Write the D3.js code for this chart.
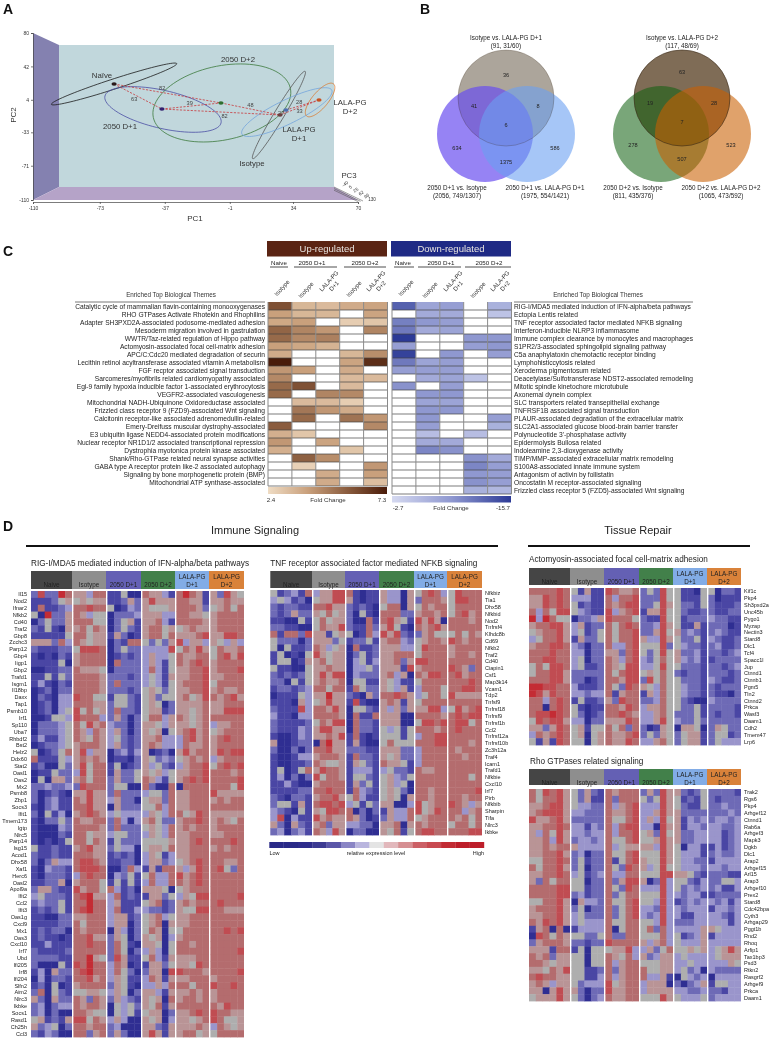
<!DOCTYPE html>
<html><head><meta charset="utf-8">
<script src="https://cdn.jsdelivr.net/npm/d3@7"></script>
<style>html,body{margin:0;padding:0;background:#fff}svg{display:block;font-family:"Liberation Sans",Arial,sans-serif;filter:blur(.4px)}</style>
</head><body><svg id="fig" width="772" height="1039" viewBox="0 0 772 1039"></svg>
<script>
// ---------- Panel A data ----------
const pc1Ticks=[-110,-73,-37,-1,34,70];
const pc2Ticks=[-110,-71,-33,4,42,80];
const pc3Ticks=["-40","5","25","62","96","130"];
const pcaGroups=["Naïve","2050 D+1","2050 D+2","Isotype","LALA-PG D+1","LALA-PG D+2"];
const pcaPc1=[-65.1,-38.6,-5.9,26.8,30.1,48.4];
const pcaPc2=[22,-6.5,0.4,-13.3,-7.6,3.8];
const pcaDot=["#2a1a1a","#33206f","#2f6f2f","#6b4040","#4f6fb0","#c8501f"];
const ellCx=[-65.1,-38,-5.4,26.2,30.6,49];
const ellCy=[22,-7,0.4,-13.3,-10,3.8];
const ellA=[36.5,33,38.8,28.2,27.7,11.6];
const ellB=[2.8,10.5,20.5,2.8,6.6,4.4];
const ellAngle=[-18,13,-12,-59,-26,-50];
const ellStroke=["#1a1a1a","#4a4ea5","#3c7a3c","#555555","#74a5dc","#d97a30"];
const pcaEdgeFrom=[0,0,1,1,2,3,4,3];
const pcaEdgeTo=[1,2,2,3,3,4,5,5];
const pcaEdgeLabel=["63","82","39","82","48","27","28","33"];
const pcaEdgeT=[.42,.45,.47,.53,.5,.2,.4,.5];
const pcaEdgeDy=[5,-5,-3,4,-4,-1,-4,4];

// ---------- Panel B data ----------
const vennCounts1=["36","41","8","6","634","586","1375"];
const vennCounts2=["63","19","28","7","278","523","507"];
const vennTitles1=[["Isotype vs. LALA-PG D+1","(91, 31/60)"],["2050 D+1 vs. Isotype","(2056, 749/1307)"],["2050 D+1 vs. LALA-PG D+1","(1975, 554/1421)"]];
const vennTitles2=[["Isotype vs. LALA-PG D+2","(117, 48/69)"],["2050 D+2 vs. Isotype","(811, 435/376)"],["2050 D+2 vs. LALA-PG D+2","(1065, 473/592)"]];

// ---------- Panel C data ----------
const upThemes=["Catalytic cycle of mammalian flavin-containing monooxygenases","RHO GTPases Activate Rhotekin and Rhophilins","Adapter SH3PXD2A-associated podosome-mediated adhesion","Mesoderm migration involved in gastrulation","WWTR/Taz-related regulation of Hippo pathway","Actomyosin-associated focal cell-matrix adhesion","APC/C:Cdc20 mediated degradation of securin","Lecithin retinol acyltransferase associated vitamin A metabolism","FGF recptor associated signal transduction","Sarcomeres/myofibrils related cardiomyopathy associated","Egl-9 family hypoxia inducible factor 1-associated erythrocytosis","VEGFR2-associated vasculogenesis","Mitochondrial NADH-Ubiquinone Oxidoreductase associated","Frizzled class receptor 9 (FZD9)-associated Wnt signaling","Calcitonin receptor-like associated adrenomedullin-related","Emery-Dreifuss muscular dystrophy-associated","E3 ubiquitin ligase NEDD4-associated protein modifications","Nuclear receptor NR1D1/2 associated transcriptional repression","Dystrophia myotonica protein kinase associated","Shank/Rho-GTPase related neural synapse activities","GABA type A receptor protein like-2 associated autophagy","Signaling by bone morphogenetic protein (BMP)","Mitochondrial ATP synthase-associated"];
const upFold=[[5.8,3.4,3.3,3.7,3.9],[4,3.4,3.4,0,3.9],[3.8,4,0,2.8,3],[5.3,4.6,4.2,0,4.6],[5.2,4.5,4.7,0,0],[4,3.8,3.5,0,0],[3.7,0,0,3.4,4.4],[7.3,0,0,3.9,6.8],[4.2,4,0,3.7,0],[4.5,0,0,3.3,3.3],[5.2,5.8,0,3.3,0],[5.2,0,4.6,4.5,0],[0,3.3,3.3,2.8,0],[0,4.9,4.2,3.7,0],[0,5.2,0,5,4.2],[5.5,0,0,0,4.5],[3.6,3,0,0,0],[4.2,0,3.9,0,0],[3.6,0,0,3,0],[0,5.4,4.4,0,0],[0,2.7,0,0,4.2],[0,0,3.7,0,4],[0,0,3.7,0,3.2]];
const downThemes=["RIG-I/MDA5 mediated induction of IFN-alpha/beta pathways","Ectopia Lentis related","TNF receptor associated factor mediated NFKB signaling","Interferon-inducible NLRP3 inflammasome","Immune complex clearance by monocytes and macrophages","S1PR2/3-associated sphingolipid signaling pathway","C5a anaphylatoxin chemotactic receptor binding","Lymphohisticcytosis related","Xeroderma pigmentosum related","Deacetylase/Sulfotransferase NDST2-associated remodeling","Mitotic spindle kinetochore microtubule","Axonemal dynein complex","SLC transporters related transepithelial exchange","TNFRSF1B associated signal transduction","PLAUR-associated degradation of the extracellular matrix","SLC2A1-associated glucose blood-brain barrier transfer","Polynucleotide 3'-phosphatase activity","Epidermolysis Bullosa related","Indoleamine 2,3-dioxygenase activity","TIMP/MMP-associated extracellular matrix remodeling","S100A8-associated innate immune system","Antagonism of activin by follistatin","Oncostatin M receptor-associated signaling","Frizzled class receptor 5 (FZD5)-associated Wnt signaling"];
const downFold=[[12.5,7,7.5,0,6],[0,6.5,6.5,0,4.5],[10,8,7.5,0,0],[10.5,6.5,7,0,0],[15.7,0,0,8,8],[7.5,0,0,7.5,8],[15,0,8,0,7.5],[10.5,7,7.5,0,0],[7.5,7.5,7.5,0,0],[0,6.5,7,4.5,0],[8.5,0,7.5,0,0],[0,8,8,0,0],[0,7,7,0,0],[0,8,8,0,0],[0,8,0,0,7.5],[0,7.5,0,0,6],[0,5,0,5,0],[0,6.5,6.5,0,0],[0,9.5,8.5,0,0],[0,0,0,8.5,6.5],[0,0,0,9.5,7.5],[0,0,0,8,7.5],[0,0,0,8.5,7.5],[0,0,0,6,5.5]];

// ---------- Panel D data ----------
const heatGroups=["Naive","Isotype","2050 D+1","2050 D+2","LALA-PG D+1","LALA-PG D+2"];
const heatGroupColors=["#454545","#8e8e8e","#6460b4","#42804a","#82ace6","#d9823a"];
const exprLevels=[0,1,2,3,4,5,6,7,8];
const exprColors=["#2f2e92","#4a46a4","#6e6ab6","#9a95cb","#aeaeae","#b99496","#b46c6e","#c04c52","#c42c34"];
const legendStops=["#2a2a88","#2a2a88","#2e2c8c","#3c3a92","#5a56a8","#8a85c5","#b9b5de","#e4e4e4","#e2b8bc","#d68f92","#cc6066","#c84a50","#c22c34","#bd1e2a","#bd1e2a"];

const ifnGenes=["Il15","Nod2","Ifnar2","Nfkb2","Cd40","Traf2","Gbp8","Zcchc3","Parp12","Gbp4","Iigp1","Gbp2","Trafd1","Isgm1","Il18bp","Daxx","Tap1","Psmb10","Irf1","Sp110","Uba7","Rhbdf2","Bst2","Helz2","Ddx60","Stat2","Oasl1","Oas2","Mx2","Psmb8","Zbp1","Socs3","Ifit1","Tmem173","Igtp","Nlrc5","Parp14","Isg15","Acod1","Dhx58","Xaf1","Herc6","Oasl2","Apol9a","Ifit2","Ccl2","Ifit3","Oas1g","Cxcl9","Mx1","Oas3","Cxcl10","Irf7","Ubd","Ifi205","Irf8","Ifi204","Slfn2","Aim2","Nlrc3","Ikbke","Socs1","Rasd1","Ch25h","Ccl3"];
const ifnCells=[
"272286 55366 11400 65531 68651 52754","111245 45455 11252 57555 66551 55655","161123 66766 40132 54445 66652 45646","408225 65344 02223 55533 66554 56666","024225 66644 02451 55631 66665 56666","214105 56465 02421 56645 45655 56666","111114 66455 15201 56646 55567 55776","555263 65455 02166 42425 73553 54353",
"211122 47776 02422 33337 46575 46556","101021 56666 01212 35334 65566 46757","111140 56666 06222 35314 65676 56666","001122 65554 02222 36314 55667 56667","114142 66665 22212 34315 55667 55666","131021 66665 26222 34314 56667 46666","012022 66665 22212 45424 55667 56556","021033 76644 14421 45244 56457 65675","012033 66655 24421 45402 55556 55666","012034 74645 26221 45512 55456 55777","001443 76663 25202 46635 65456 66666","022234 64756 32202 55435 55456 35566","022234 65365 35202 54504 56756 45666","131134 65465 34212 55633 36756 56766","012234 56665 35212 56533 36556 56666","401246 57355 02313 50120 57566 57677","611143 56565 01102 54232 45656 35666",
"120042 57466 14012 53421 35667 46767","011422 37466 15224 54534 55667 66656","040552 56466 25224 65314 56767 66667","223223 27666 24400 62006 06666 66647","201210 55755 26222 34426 55666 75555","202311 65755 35220 45526 55666 56566","102311 66755 05222 44636 55666 66666","204130 56765 34333 35436 64576 55555","102242 65566 26303 56422 56676 56546","100032 66665 26222 45436 56566 56666","100021 66455 34422 35436 55666 55666","101014 66465 14222 44445 55676 66676","411211 56755 24330 45546 55666 56566","211211 66655 12120 35413 55666 66666","202533 67765 11220 35523 45676 66556","103221 67776 00263 15166 53576 67426","102221 36766 03241 46336 75676 66666","112250 56664 14141 36336 65676 66666","255211 75664 63120 55540 45666 66666","342221 67855 36121 15524 35477 66667","232241 66866 35111 45612 56566 67666","121241 67866 36113 32212 54477 66555","110022 55666 35512 45634 55666 66666","111122 64666 35502 45605 55666 66666","121220 65666 05302 46504 46666 66767","121101 66755 25402 54503 56666 66666","113111 66766 26410 55404 66566 66666","211112 66666 26402 35304 66666 66667","222211 66854 27511 46315 55566 66666","200041 76866 36501 15524 55476 66666","130522 67866 36420 25507 76665 66667","030221 66756 35411 36515 55666 56666","120401 56666 25410 33536 66466 76676","260421 44554 35402 55315 55656 56666","520522 65265 25321 54506 56656 56666","230233 65665 04342 54615 66666 65766","230200 66544 04341 45502 55676 76655","451215 77465 35300 54503 55456 76445","523402 66566 23000 55215 55565 36545","213200 66256 25200 57515 56645 46666"];

const tnfGenes=["Nfkbiz","Tia1","Dhx58","Nfkbid","Nod2","Tnfrsf4","Klhdc8b","Cd69","Nfkb2","Traf2","Cd40","Ciapin1","Csf1","Map3k14","Vcam1","Tdp2","Tnfsf9","Tnfrsf18","Tnfrsf9","Tnfrsf1b","Ccl2","Tnfrsf12a","Tnfrsf10b","Zc3h12a","Traf4","Icam1","Trafd1","Nfkbie","Cxcl10","Irf7","Pirb","Nfkbib","Sharpin","Tifa","Nlrc3","Ikbke"];
const tnfCells=["412316 35577 61011 53305 46763 47666","343120 45577 51011 53305 26665 47766","212211 66755 21210 46605 46566 46666","212522 54645 20410 66622 56656 46756","110041 46455 20061 67541 75750 66656","221100 46557 21162 57410 65675 66666","616627 55145 40163 75721 25644 46465","422202 55524 12241 56632 45665 76566","404112 65345 06112 55533 47666 56666","140104 75455 02412 55666 46666 56656","144015 56455 03413 55625 77666 66666","411004 55655 03342 55517 56666 76526","212124 57577 03222 56350 65776 67566","220414 56556 04411 54311 46666 66676","122123 66466 16422 54351 36664 66776","011143 55855 21052 66765 34664 75555","111053 45755 17100 56515 46666 66666","211173 66575 04421 53525 55773 47567","311033 66665 06116 55500 66665 67677","211112 46577 06221 55500 47767 67746","211132 57755 06221 43414 66656 67666","100132 55657 16101 44414 36677 66666","500122 06855 15100 46444 66677 66656","200202 66755 22211 55522 36666 65666","100133 56665 16221 54522 36666 66566","100112 65445 15421 65541 36666 66666","140146 57665 13331 34221 65566 66666","130202 74665 14421 45324 66666 66646","113100 56666 15241 45340 66666 66666","111122 66766 16321 45420 66566 66667","210221 56675 46311 45405 66566 66566","244151 67767 34142 55003 74566 76535","321041 54776 60202 15336 74576 66356","370311 75655 65201 25336 45666 65646","520521 56255 33220 55605 65666 46646","230231 65375 02200 54614 67766 66677"];

const actinGenes=["Kif1c","Pkp4","Sh3pxd2a","Unc45b","Pygo1","Myzap","Nectin3","Stard8","Dlc1","Tcf4","Spacc1l","Jup","Ctnnd1","Ctnnb1","Pgm5","Tln2","Ctnnd2","Prkca","Wasf3","Daam1","Cdh2","Tmem47","Lrp6"];
const actinCells=["666676 41511 76556 24274 41104 40221","557676 33311 63667 22274 41114 20111","557676 41211 65677 22475 42214 21112","636477 43211 73567 15574 42112 21122","838644 02235 76664 21174 41222 32211","566775 35122 64676 22375 41151 22201","456675 34124 64667 22574 52321 23211","346675 15224 64667 53375 42241 32112","566776 32022 63367 44472 43221 23112","666766 33022 55267 42474 52231 22123","667766 34022 65367 32464 53231 12222","464776 34112 65477 33474 42221 22123","466775 22222 64677 45464 21221 22212","666775 22012 66577 27464 42221 32112","887766 31112 64276 54364 43221 21222","875766 33233 61566 15364 43221 21102","663676 14112 52766 22364 42100 32222","660676 41011 66576 35564 42241 22221","677876 42012 66765 33564 22241 21221","476775 33022 55576 33574 32242 22222","552576 45144 64626 20154 05540 25422","365676 45045 65567 24254 24551 24412","415176 44045 65576 33564 24551 24333"];

const rhoGenes=["Trak2","Rgs6","Pkp4","Arhgef12","Ctnnd1","Rab6a","Arhgef3","Mapk3","Dgkb","Dlc1","Arap2","Arhgef15","Arl15","Arap3","Arhgef10","Prex2","Stard8","Cdc42bpa","Cyth3","Arhgap29","Pggt1b","Rnd2","Rhoq","Arfip1","Tax1bp3","Psd3","Rtkn2","Rasgrf2","Arhgef9","Prkca","Daam1"];
const rhoCells=["647675 42521 65666 25275 52124 22221","646675 42511 62666 42475 41214 21222","556775 43322 63567 33375 42114 22322","567775 33222 65567 33575 52222 22232","755675 22222 64467 35374 51323 23323","556676 33132 63677 33075 51332 33223","536475 33233 63667 45274 52233 33123","556375 23323 64467 44575 52233 33123","556566 53333 63455 55375 40331 13123","556675 23022 64467 44475 43331 23223","446676 24122 61467 54475 43322 13333","646675 24022 64276 53474 43332 33233","556676 34123 63366 44477 55421 22211","526466 44022 62577 50273 44213 22443","666677 44122 64276 33373 42323 23113","666677 23122 62466 44473 32331 12222","446675 05332 64467 44373 12323 32313","566675 24022 62467 33273 32333 13323","556675 34222 62467 32373 31133 33213","657675 34333 64466 44373 22233 33313","156060 13333 60466 46263 33335 54333","076465 44224 62266 44463 41235 13333","256665 22122 76666 53563 43335 33333","555166 14044 45573 35246 44545 34575","656255 44044 65463 52355 34333 34555","665455 44044 63566 44455 33433 33354","554657 44112 62566 64455 34230 32222","676655 44113 63566 63351 04323 03333","565355 42333 74566 35550 20235 14433","550575 52022 75566 35555 33223 22133","455575 42023 65566 44475 43334 23333"];

// ---------- drawing ----------
const svg=d3.select("#fig");
const FS='"Liberation Sans",Arial,sans-serif';
function txt(g,x,y,s,o={}){
  const t=g.append("text").attr("x",x).attr("y",y).attr("dominant-baseline","central")
    .attr("text-anchor",o.anchor||"middle").attr("font-size",o.size||6.5).attr("fill",o.fill||"#222").text(s);
  if(o.weight)t.attr("font-weight",o.weight);
  if(o.rot!=null)t.attr("transform",`rotate(${o.rot} ${x} ${y})`);
  return t;
}
[["A",3,9],["B",420,9],["C",3,251],["D",3,526]].forEach(d=>txt(svg,d[1],d[2],d[0],{size:14,anchor:"start",weight:"bold",fill:"#111"}));

// ----- Panel A
(function(){
  const g=svg.append("g");
  const x=d3.scaleLinear().domain([-110,70]).range([33,358]);
  const y=d3.scaleLinear().domain([-110,80]).range([200,33]);
  g.append("polygon").attr("points","33,33 59,45 59,187 33,200").attr("fill","#8481b0");
  g.append("polygon").attr("points","59,45 334,45 334,187 59,187").attr("fill","#c1d7dc");
  g.append("polygon").attr("points","59,187 334,187 358,200 33,200").attr("fill","#b5a3c8");
  g.append("g").attr("transform","translate(0,202)").call(d3.axisBottom(x).tickValues(pc1Ticks).tickSize(2).tickPadding(2).tickFormat(d=>d))
   .call(a=>a.selectAll("text").attr("font-size",5).attr("font-family",FS).attr("fill","#333"))
   .call(a=>a.selectAll("path,line").attr("stroke","#444").attr("stroke-width",.7));
  g.append("g").attr("transform","translate(33,0)").call(d3.axisLeft(y).tickValues(pc2Ticks).tickSize(2).tickPadding(2).tickFormat(d=>d))
   .call(a=>a.selectAll("text").attr("font-size",5).attr("font-family",FS).attr("fill","#333"))
   .call(a=>a.selectAll("path,line").attr("stroke","#444").attr("stroke-width",.7));
  txt(g,195,218,"PC1",{size:8,fill:"#333"});
  txt(g,13,115,"PC2",{size:8,fill:"#333",rot:-90});
  const k=x(1)-x(0);
  const curve=d3.line().curve(d3.curveLinearClosed);
  pcaGroups.forEach((n,i)=>{
    const a=ellA[i]*k,b=ellB[i]*k,th=ellAngle[i]*Math.PI/180,cx=x(ellCx[i]),cy=y(ellCy[i]);
    const pts=d3.range(0,360,4).map(u=>{const t=u*Math.PI/180,px=a*Math.cos(t),py=b*Math.sin(t);
      return [cx+px*Math.cos(th)-py*Math.sin(th),cy+px*Math.sin(th)+py*Math.cos(th)];});
    g.append("path").attr("d",curve(pts)).attr("fill","none").attr("stroke",ellStroke[i]).attr("stroke-width",.8);
  });
  pcaEdgeFrom.forEach((f,i)=>{
    const t=pcaEdgeTo[i],x1=x(pcaPc1[f]),y1=y(pcaPc2[f]),x2=x(pcaPc1[t]),y2=y(pcaPc2[t]);
    g.append("line").attr("x1",x1).attr("y1",y1).attr("x2",x2).attr("y2",y2).attr("stroke","#c8383c").attr("stroke-width",.8).attr("stroke-dasharray","2.2,1.4");
    txt(g,x1+(x2-x1)*pcaEdgeT[i],y1+(y2-y1)*pcaEdgeT[i]+pcaEdgeDy[i],pcaEdgeLabel[i],{size:5.6,fill:"#444"});
  });
  pcaGroups.forEach((n,i)=>g.append("ellipse").attr("cx",x(pcaPc1[i])).attr("cy",y(pcaPc2[i])).attr("rx",2.6).attr("ry",1.7).attr("fill",pcaDot[i]));
  const L={size:7.8,fill:"#333"};
  txt(g,102,75,"Naïve",L);txt(g,238,59,"2050 D+2",L);txt(g,120,126,"2050 D+1",L);
  txt(g,350,102,"LALA-PG",L);txt(g,350,111,"D+2",L);txt(g,299,129,"LALA-PG",L);txt(g,299,138,"D+1",L);
  txt(g,252,163,"Isotype",L);txt(g,349,175,"PC3",L);
  [0,1.6,3.2].forEach(d=>g.append("line").attr("x1",334).attr("y1",187+d).attr("x2",363-d*1.5).attr("y2",201+d*.2).attr("stroke","#444").attr("stroke-width",.5));
  const px=d3.scalePoint().domain(pc3Ticks).range([345,372]),py=d3.scalePoint().domain(pc3Ticks).range([184,199]);
  pc3Ticks.forEach(t=>txt(g,px(t),py(t),t,{size:4.6,fill:"#333",rot:t==="130"?0:-35}));
})();

// ----- Panel B
(function(){
  const r=48;
  function venn(cx,cols,ops,counts,titles,dy,sw){
    const g=svg.append("g");
    [[0,-36,0],[-21,0,1],[21,0,2]].forEach(c=>g.append("circle").attr("cx",cx+c[0]).attr("cy",134+c[1]).attr("r",r)
       .attr("fill",cols[c[2]]).attr("fill-opacity",ops[c[2]]));
    g.append("circle").attr("cx",cx).attr("cy",98).attr("r",r).attr("fill","none").attr("stroke","#3a2a18").attr("stroke-width",sw);
    const pos=[[0,-59],[-32,-28],[32,-28],[0,-9],[-49,14],[49,14],[0,28]];
    counts.forEach((n,i)=>txt(g,cx+pos[i][0],134+pos[i][1]+dy,n,{size:5.6,fill:"#222"}));
    const tp=[[0,37],[-49,187],[39,187]];
    titles.forEach((t,i)=>{const tx=cx+tp[i][0];
      txt(svg,tx,tp[i][1],t[0],{size:6.3,fill:"#222"});txt(svg,tx,tp[i][1]+8,t[1],{size:6.3,fill:"#222"});});
  }
  venn(506,["#7f7565","#6a4ff0","#6aa0f2"],[.65,.7,.6],vennCounts1,vennTitles1,0,.25);
  venn(682,["#7f6c56","#106010","#c95f00"],[1,.56,.58],vennCounts2,vennTitles2,-3.5,.6);
})();

// ----- Panel C
(function(){
  const upCol=d3.scaleLinear().domain([2.4,4,5.5,7.3]).range(["#efdcc4","#c9a07c","#8a5c3e","#4a1c0a"]);
  const downCol=d3.scaleLinear().domain([2.7,8,15.7]).range(["#d5d9f0","#8f98d0","#2c3a96"]);
  const defs=svg.append("defs");
  function grad(id,stops){const lg=defs.append("linearGradient").attr("id",id);
    stops.forEach((s,i)=>lg.append("stop").attr("offset",i/(stops.length-1)).attr("stop-color",s));}
  grad("gUp",upCol.range());grad("gDown",downCol.range());
  function block(x0,hdr,hdrCol,labels,vals,col,side,lineX,themeCx,sub,rot){
    const g=svg.append("g");
    const colsX=d3.scaleBand().domain(d3.range(5)).range([x0,x0+119.5]);
    const rowsY=d3.scaleBand().domain(d3.range(labels.length)).range([302,302+8*labels.length]);
    g.append("rect").attr("x",x0-1).attr("y",241).attr("width",120).attr("height",15.5).attr("fill",hdrCol);
    txt(g,x0+59,248.5,hdr,{size:9.5,fill:"#e8e4e0"});
    sub.forEach(s=>{txt(g,s[0],262.5,s[1],{size:6.2,fill:"#222"});
      g.append("line").attr("x1",s[2]).attr("x2",s[3]).attr("y1",267).attr("y2",267).attr("stroke","#222").attr("stroke-width",.8);});
    rot.forEach(s=>{
      if(s[2]){txt(g,s[0]-1,s[1]-2,"LALA-PG",{size:6,rot:-48,fill:"#333"});txt(g,s[0]+4,s[1]+3,s[2],{size:6,rot:-48,fill:"#333"});}
      else txt(g,s[0],s[1],"Isotype",{size:6,rot:-48,fill:"#333"});});
    vals.forEach((row,r)=>row.forEach((v,c)=>{
      g.append("rect").attr("x",colsX(c)).attr("y",rowsY(r)).attr("width",colsX.bandwidth()).attr("height",rowsY.bandwidth())
       .attr("fill",v?col(v):"#fff");
    }));
    rowsY.domain().forEach(r=>g.append("line").attr("x1",x0).attr("x2",x0+119.5).attr("y1",rowsY(r)+8).attr("y2",rowsY(r)+8).attr("stroke","#444").attr("stroke-width",.7));
    d3.range(6).forEach(c=>g.append("line").attr("x1",x0+c*23.9).attr("x2",x0+c*23.9).attr("y1",302).attr("y2",302+8*labels.length).attr("stroke","#8a8a8a").attr("stroke-width",1));
    labels.forEach((l,i)=>txt(g,side==="end"?265:514,rowsY(i)+4,l,{size:6.65,anchor:side,fill:"#222"}));
    g.append("line").attr("x1",lineX[0]).attr("x2",lineX[1]).attr("y1",302).attr("y2",302).attr("stroke","#555").attr("stroke-width",.8);
    txt(g,themeCx,294,"Enriched Top Biological Themes",{size:6.3,fill:"#333"});
  }
  block(268,"Up-regulated","#5a2413",upThemes,upFold,upCol,"end",[75,265],171,
    [[279,"Naive",270,288],[312,"2050 D+1",294,337],[365,"2050 D+2",344,386]],
    [[282,288],[306,290],[330,283,"D+1"],[354,289],[377,283,"D+2"]]);
  block(392,"Down-regulated","#1f2a85",downThemes,downFold,downCol,"start",[514,693],598,
    [[403,"Naive",394,414],[441,"2050 D+1",418,461],[489,"2050 D+2",465,511]],
    [[406,288],[430,290],[454,283,"D+1"],[478,290],[501,283,"D+2"]]);
  svg.append("rect").attr("x",268).attr("y",487).attr("width",119).attr("height",7).attr("fill","url(#gUp)");
  svg.append("rect").attr("x",392).attr("y",496).attr("width",119).attr("height",6.5).attr("fill","url(#gDown)");
  const s={size:6.2,fill:"#333"};
  txt(svg,271,499,"2.4",s);txt(svg,328,499,"Fold Change",s);txt(svg,382,499,"7.3",s);
  txt(svg,398,507.5,"-2.7",s);txt(svg,451,507.5,"Fold Change",s);txt(svg,503,507.5,"-15.7",s);
})();

// ----- Panel D
(function(){
  const color=d3.scaleOrdinal().domain(exprLevels).range(exprColors);
  const groupCols=[6,5,5,5,5,5];
  txt(svg,255,530,"Immune Signaling",{size:11,fill:"#222"});
  txt(svg,638,530,"Tissue Repair",{size:11,fill:"#222"});
  [[26,498],[528,750]].forEach(l=>svg.append("line").attr("x1",l[0]).attr("x2",l[1]).attr("y1",546).attr("y2",546).attr("stroke","#111").attr("stroke-width",1.8));
  function heat(o){
    const g=svg.append("g");
    txt(g,o.xs[0]+(o.titleDx||0),o.titleY,o.title,{size:8.2,anchor:"start",fill:"#222"});
    heatGroups.forEach((n,i)=>{
      const x0=o.xs[i],x1=o.xs[i+1];
      g.append("rect").attr("x",x0).attr("y",o.hTop).attr("width",x1-x0).attr("height",o.hBot-o.hTop).attr("fill",heatGroupColors[i]);
      const cx=(x0+x1)/2, parts=n.startsWith("LALA")?[n.slice(0,7),n.slice(8)]:[n];
      if(parts.length>1){txt(g,cx,o.hTop+5.5,parts[0],{size:6.3,fill:"#222"});txt(g,cx,o.hTop+13,parts[1],{size:6.3,fill:"#222"});}
      else txt(g,cx,o.hTop+13,n,{size:6.3,fill:"#222"});
    });
    const y=d3.scaleBand().domain(o.genes).range([o.top,o.bottom]);
    o.cells.forEach((row,r)=>{
      row.split(" ").forEach((grp,gi)=>{
        const x=d3.scaleBand().domain(d3.range(groupCols[gi])).range([o.xs[gi]+(gi?1.4:0),o.xs[gi+1]]);
        g.selectAll(null).data(grp.split("").map(Number).slice(0,groupCols[gi])).join("rect")
         .attr("x",(d,i)=>x(i)).attr("y",y(o.genes[r])).attr("width",(d,i)=>x.bandwidth()+(i<groupCols[gi]-1?.4:0)).attr("height",y.bandwidth()+.4).attr("fill",d=>color(d));
      });
    });
    o.genes.forEach(n=>txt(g,o.labelX,y(n)+y.bandwidth()/2,n,{size:5.5,anchor:o.labelAnchor,fill:"#222"}));
  }
  heat({title:"RIG-I/MDA5 mediated induction of IFN-alpha/beta pathways",titleY:563,xs:[31,72,106,141,175,209,244],hTop:571,hBot:589,top:591,bottom:1037,genes:ifnGenes,cells:ifnCells,labelX:27,labelAnchor:"end"});
  heat({title:"TNF receptor associated factor mediated NFKB signaling",titleY:563,xs:[270.3,312,345,379,414,447,482],hTop:571,hBot:588,top:590,bottom:835,genes:tnfGenes,cells:tnfCells,labelX:485,labelAnchor:"start"});
  heat({title:"Actomyosin-associated focal cell-matrix adhesion",titleY:559,xs:[529,570,604,639,673,707,741],hTop:568,hBot:585,top:588,bottom:745,genes:actinGenes,cells:actinCells,labelX:744,labelAnchor:"start"});
  heat({title:"Rho GTPases related signaling",titleY:761,titleDx:1,xs:[529,570,604,639,673,707,741],hTop:769,hBot:785,top:789,bottom:1001,genes:rhoGenes,cells:rhoCells,labelX:744,labelAnchor:"start"});
  const lx=d3.scaleBand().domain(d3.range(legendStops.length)).range([269.3,484]);
  svg.selectAll(null).data(legendStops).join("rect").attr("x",(d,i)=>lx(i)).attr("y",842).attr("width",lx.bandwidth()+.2).attr("height",6).attr("fill",d=>d);
  txt(svg,269.5,853,"Low",{size:5.5,anchor:"start"});txt(svg,376,853,"relative expression level",{size:5.5});txt(svg,484,853,"High",{size:5.5,anchor:"end"});
})();
</script></body></html>
